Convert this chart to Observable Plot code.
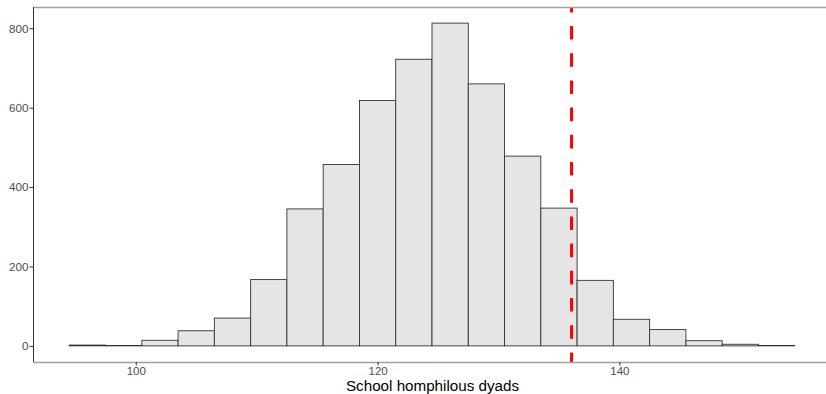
<!DOCTYPE html>
<html>
<head>
<meta charset="utf-8">
<script src="https://cdn.jsdelivr.net/npm/d3@7"></script>
<script src="https://cdn.jsdelivr.net/npm/@observablehq/plot@0.6"></script>
<style>
  html, body { margin: 0; padding: 0; background: #fff; overflow: hidden; }
  svg { display: block; }
</style>
</head>
<body>
<div id="chart"></div>
<script>
// Histogram bins (binwidth 3), lower edges
const binStarts = [94.5, 97.5, 100.5, 103.5, 106.5, 109.5, 112.5, 115.5, 118.5, 121.5,
                   124.5, 127.5, 130.5, 133.5, 136.5, 139.5, 142.5, 145.5, 148.5, 151.5];
const counts = [2, 1, 14, 38, 70, 167, 345, 457, 618, 722,
                813, 660, 478, 347, 165, 67, 41, 13, 4, 1];
const binWidth = 3;
const observed = 136;
const xTicks = [100, 120, 140];
const yTicks = [0, 200, 400, 600, 800];
const xLabel = "School homphilous dyads";

const bins = binStarts.map((s, i) => ({x1: s, x2: s + binWidth, count: counts[i]}));

const xMin = 94.5, xMax = 154.5;
const xPad = (xMax - xMin) * 0.05;
const yMaxData = d3.max(counts);
const yPad = yMaxData * 0.05;
const xDomain = [xMin - xPad, xMax + xPad];
const yDomain = [-yPad, yMaxData + yPad];

const chart = Plot.plot({
  width: 826,
  height: 394,
  marginLeft: 33,
  marginRight: -5,
  marginTop: 7,
  marginBottom: 32,
  style: {fontFamily: "'Liberation Sans', Arial, sans-serif", background: "#fff"},
  x: {domain: xDomain, ticks: xTicks, label: null},
  y: {domain: yDomain, ticks: yTicks, label: null},
  marks: [
    Plot.rectY(bins, {x1: "x1", x2: "x2", y1: 0, y2: "count", fill: "#e5e5e5", stroke: "#333", strokeWidth: 0.9, inset: 0}),
    Plot.ruleX([observed], {y1: yDomain[1], y2: yDomain[0], stroke: "#ff0000", strokeWidth: 3, strokeDasharray: "13.6 13.6", strokeDashoffset: 8.2}),
    Plot.ruleY([yDomain[1]], {stroke: "#a0a0a0", strokeWidth: 1.6}),
    Plot.ruleY([yDomain[0]], {stroke: "#a0a0a0", strokeWidth: 1.6}),
    Plot.ruleX([xDomain[0]], {stroke: "#333", strokeWidth: 1}),
    Plot.axisY({ticks: yTicks, tickSize: 3.5, tickPadding: 1.5, stroke: "#333", fill: "#4d4d4d", fontSize: 11.7, label: null}),
    Plot.axisX({ticks: xTicks, tickSize: 3.5, tickPadding: 1, stroke: "#333", fill: "#4d4d4d", fontSize: 11.5, label: null}),
    Plot.text([xLabel], {frameAnchor: "bottom", dy: 28.5, text: d => d, fontSize: 15.2, fill: "#000"})
  ]
});
document.getElementById("chart").appendChild(chart);
</script>
</body>
</html>
